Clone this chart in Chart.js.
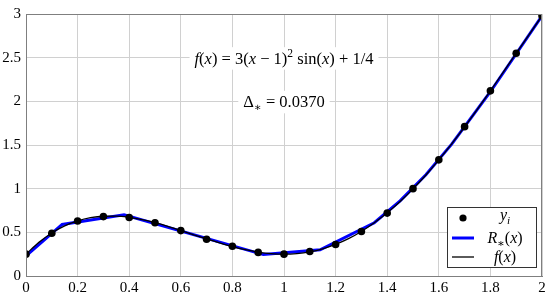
<!DOCTYPE html>
<html>
<head>
<meta charset="utf-8">
<script src="https://cdn.jsdelivr.net/npm/chart.js@4.4.1/dist/chart.umd.min.js"></script>
<style>
html,body{margin:0;padding:0;background:#fff;}
#c{display:block;}
</style>
</head>
<body>
<canvas id="c" width="550" height="295"></canvas>
<script>
// ---- data ----
const sampleX = [0,0.1,0.2,0.3,0.4,0.5,0.6,0.7,0.8,0.9,1.0,1.1,1.2,1.3,1.4,1.5,1.6,1.7,1.8,1.9,2.0];
const sampleY = [0.25,0.49,0.63,0.68,0.67,0.61,0.52,0.42,0.34,0.27,0.25,0.28,0.36,0.51,0.72,1.00,1.33,1.71,2.12,2.55,2.98];

const curveX = [0,0.05,0.1,0.15,0.2,0.25,0.3,0.35,0.4,0.45,0.5,0.55,0.6,0.65,0.7,0.75,0.8,0.85,0.9,0.95,1.0,
                1.05,1.1,1.15,1.2,1.25,1.3,1.35,1.4,1.45,1.5,1.55,1.6,1.65,1.7,1.75,1.8,1.85,1.9,1.95,2.0];
const curveY = [0.25,0.385,0.493,0.574,0.631,0.668,0.684,0.685,0.671,0.645,0.610,0.568,0.521,0.472,0.424,0.378,0.336,0.301,0.274,0.256,0.25,
                0.257,0.277,0.312,0.362,0.428,0.510,0.609,0.723,0.853,0.998,1.157,1.330,1.514,1.708,1.911,2.120,2.334,2.550,2.765,2.978];

const approxX = [0,0.14,0.38,0.92,1.14,1.35,1.45,1.55,1.65,1.8,2.0];
const approxY = [0.23,0.59,0.70,0.245,0.30,0.61,0.86,1.16,1.51,2.11,2.98];

const xTicks = [0,0.2,0.4,0.6,0.8,1,1.2,1.4,1.6,1.8,2];
const yTicks = [0,0.5,1,1.5,2,2.5,3];

// ---- helpers ----
const pts = (xs, ys) => xs.map((x, i) => ({x: x, y: ys[i]}));
const SERIF = "'Liberation Serif', 'DejaVu Serif', serif";
const fnt = (style, size) => style + " " + size + "px " + SERIF;

function drawRuns(ctx, runs, cx, baseline, bg, size) {
  // runs: [text, kind]  kind: 'i' italic, 'n' normal, 'sup', 'sub', 'isub'
  let total = 0;
  const small = size * 0.7;
  const measured = runs.map(([t, k]) => {
    let f, dy = 0;
    if (k === 'i') f = fnt('italic', size);
    else if (k === 'sup') { f = fnt('normal', small); dy = -size * 0.42; }
    else if (k === 'sub') { f = fnt('normal', small); dy = size * 0.22; }
    else if (k === 'isub') { f = fnt('italic', small); dy = size * 0.22; }
    else f = fnt('normal', size);
    ctx.font = f;
    const w = ctx.measureText(t).width;
    total += w;
    return {t, f, dy, w};
  });
  let x = cx - total / 2;
  if (bg) {
    ctx.fillStyle = '#fff';
    ctx.fillRect(x - 5, baseline - size, total + 10, size + 6);
  }
  ctx.fillStyle = '#000';
  ctx.textAlign = 'left';
  ctx.textBaseline = 'alphabetic';
  measured.forEach(m => {
    ctx.font = m.f;
    ctx.fillText(m.t, x, baseline + m.dy);
    x += m.w;
  });
}

const annotations = {
  id: 'annotations',
  afterDatasetsDraw(chart) {
    const ctx = chart.ctx;
    const a = chart.chartArea;
    const xs = chart.scales.x, ys = chart.scales.y;
    ctx.save();
    // frame
    ctx.strokeStyle = '#7f7f7f';
    ctx.lineWidth = 1;
    ctx.strokeRect(Math.round(a.left) + 0.5, Math.round(a.top) + 0.5,
                   Math.round(a.right - a.left) - 1, Math.round(a.bottom - a.top));
    // formula texts
    drawRuns(ctx, [["f","i"],["(","n"],["x","i"],[") = 3(","n"],["x","i"],[" − 1)","n"],["2","sup"],[" sin(","n"],["x","i"],[") + 1/4","n"]],
             xs.getPixelForValue(1.0), ys.getPixelForValue(2.5) + 6, true, 16.5);
    drawRuns(ctx, [["Δ","n"],["∗","sub"],[" = 0.0370","n"]],
             xs.getPixelForValue(1.0), ys.getPixelForValue(2.0) + 6, true, 16.5);

    // legend
    const lx = 447, ly = 207, lw = 89, lh = 60;
    ctx.fillStyle = '#fff';
    ctx.fillRect(lx, ly, lw, lh);
    ctx.strokeStyle = '#333';
    ctx.lineWidth = 1;
    ctx.strokeRect(lx + 0.5, ly + 0.5, lw, lh);
    const ds = chart.data.datasets;
    const rows = [218, 238, 257];
    ctx.fillStyle = ds[0].pointBackgroundColor;
    ctx.beginPath(); ctx.arc(463, rows[0], 3.6, 0, Math.PI * 2); ctx.fill();
    ctx.strokeStyle = ds[2].borderColor; ctx.lineWidth = ds[2].borderWidth;
    ctx.beginPath(); ctx.moveTo(452, rows[1]); ctx.lineTo(474, rows[1]); ctx.stroke();
    ctx.strokeStyle = ds[1].borderColor; ctx.lineWidth = ds[1].borderWidth;
    ctx.beginPath(); ctx.moveTo(452, rows[2]); ctx.lineTo(474, rows[2]); ctx.stroke();
    drawRuns(ctx, [["y","i"],["i","isub"]], 505, rows[0] + 2, false, 16);
    drawRuns(ctx, [["R","i"],["∗","sub"],["(","n"],["x","i"],[")","n"]], 505, rows[1] + 5, false, 16);
    drawRuns(ctx, [["f","i"],["(","n"],["x","i"],[")","n"]], 505, rows[2] + 5, false, 16);
    ctx.restore();
  }
};

const fmt = v => String(+Number(v).toFixed(1));

new Chart(document.getElementById('c'), {
  type: 'scatter',
  data: {
    datasets: [
      { label: 'y_i', data: pts(sampleX, sampleY), showLine: false,
        pointRadius: 3.8, pointBackgroundColor: '#000', pointBorderColor: '#000', pointBorderWidth: 0, order: 0 },
      { label: 'f(x)', data: pts(curveX, curveY), showLine: true, borderColor: '#000', borderWidth: 1.3,
        pointRadius: 0, tension: 0.3, cubicInterpolationMode: 'monotone', order: 1 },
      { label: 'R*(x)', data: pts(approxX, approxY), showLine: true, borderColor: '#0000ff', borderWidth: 3,
        pointRadius: 0, tension: 0, order: 2 }
    ]
  },
  options: {
    responsive: false,
    animation: false,
    devicePixelRatio: 1,
    layout: { padding: { top: 8, right: 8, left: 0, bottom: 0 } },
    plugins: { legend: { display: false }, tooltip: { enabled: false } },
    scales: {
      x: {
        type: 'linear', min: 0, max: 2,
        afterBuildTicks: s => { s.ticks = xTicks.map(v => ({value: v})); },
        ticks: { callback: fmt, color: '#000', font: { family: SERIF, size: 15 }, padding: 3, maxRotation: 0, autoSkip: false },
        grid: { color: '#d0d0d0', drawTicks: false, tickLength: 0 },
        border: { color: '#7f7f7f' },
        afterFit: s => { s.height = 19; }
      },
      y: {
        type: 'linear', min: 0, max: 3,
        afterBuildTicks: s => { s.ticks = yTicks.map(v => ({value: v})); },
        ticks: { callback: fmt, color: '#000', font: { family: SERIF, size: 15 }, padding: 5, autoSkip: false },
        grid: { color: '#d0d0d0', drawTicks: false, tickLength: 0 },
        border: { color: '#7f7f7f' },
        afterFit: s => { s.width = 26; }
      }
    }
  },
  plugins: [annotations]
});
</script>
</body>
</html>
